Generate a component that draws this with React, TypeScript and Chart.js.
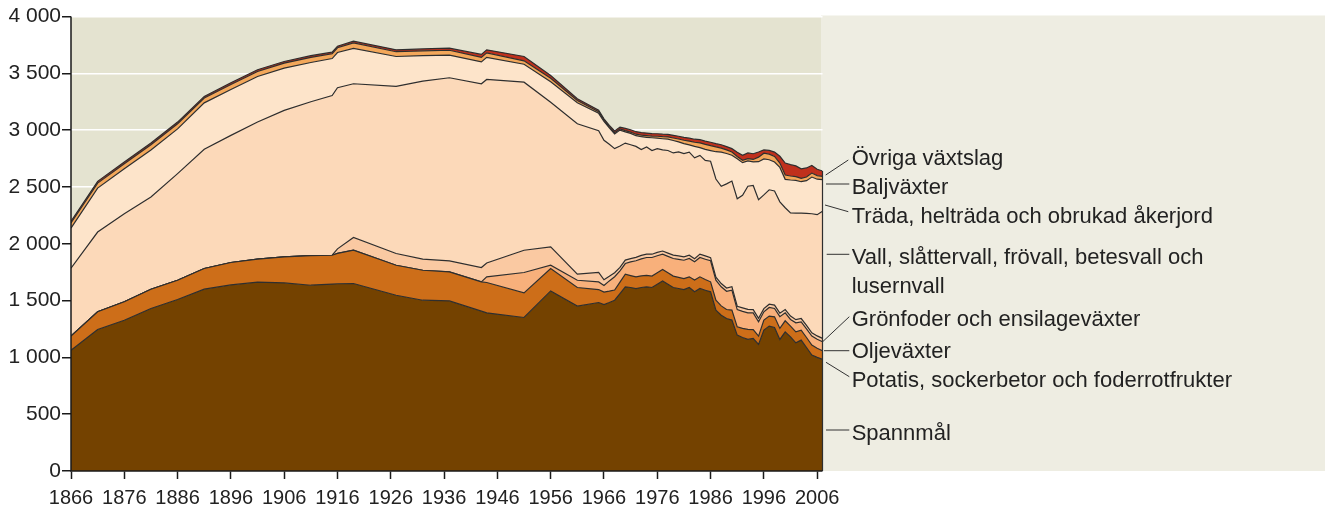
import React, { useEffect, useRef } from 'react';
import { Chart, registerables } from 'chart.js';

Chart.register(...registerables);

// Years of observation
const years = [
  1866, 1871, 1876, 1881, 1886, 1891, 1896, 1901, 1906, 1911, 1915, 1916, 1919, 1927, 1932, 1937,
  1943, 1944, 1951, 1956, 1961, 1965,
  1966, 1967, 1968, 1969, 1970, 1971, 1972, 1973, 1974, 1975, 1976, 1977, 1978, 1979, 1980, 1981,
  1982, 1983, 1984, 1985, 1986, 1987, 1988, 1989, 1990, 1991, 1992, 1993, 1994, 1995, 1996, 1997,
  1998, 1999, 2000, 2001, 2002, 2003, 2004, 2005, 2006, 2007,
];

// Area, 1000 hectares (stacked, bottom to top)
const spannmal = [
  1063, 1246, 1327, 1430, 1509, 1600, 1638, 1662, 1655, 1635, 1645, 1648, 1650, 1547, 1503, 1497,
  1407, 1392, 1351, 1585, 1451, 1483,
  1465, 1483, 1503, 1562, 1621, 1615, 1606, 1615, 1621, 1615, 1644, 1673, 1644, 1615, 1606, 1597,
  1615, 1577, 1606, 1591, 1577, 1415, 1371, 1342, 1328, 1196, 1175, 1158, 1166, 1114, 1240, 1275,
  1263, 1158, 1225, 1181, 1128, 1152, 1087, 1020, 1000, 982,
];
const potatis = [
  124, 155, 162, 170, 170, 182, 197, 202, 229, 260, 254, 267, 293, 264, 264, 255,
  257, 267, 216, 197, 164, 114,
  110, 100, 90, 100, 111, 105, 103, 102, 100, 100, 100, 100, 100, 100, 98, 97,
  94, 103, 103, 95, 88, 88, 82, 79, 88, 73, 80, 88, 79, 73, 88, 88,
  94, 97, 97, 94, 97, 88, 88, 88, 80, 76,
];
const oljevaxter = [
  0, 0, 0, 0, 0, 0, 0, 0, 0, 0, 0, 0, 0, 0, 0, 0,
  0, 49, 180, 29, 64, 67,
  58, 90, 117, 100, 94, 120, 141, 150, 158, 164, 150, 135, 145, 155, 158, 161,
  161, 161, 170, 178, 185, 176, 168, 161, 176, 152, 150, 146, 146, 126, 73, 76,
  73, 103, 70, 59, 79, 73, 76, 79, 79, 79,
];
const gronfoder = [
  0, 0, 0, 0, 0, 0, 0, 0, 0, 0, 0, 40, 112, 103, 97, 97,
  127, 123, 196, 161, 53, 83,
  50, 40, 35, 30, 30, 29, 30, 31, 30, 29, 30, 28, 29, 30, 31, 30,
  29, 28, 30, 29, 28, 27, 29, 28, 30, 29, 31, 30, 29, 30, 28, 29,
  30, 31, 29, 30, 28, 29, 30, 29, 30, 30,
];
const vall = [
  598, 702, 776, 811, 938, 1049, 1119, 1207, 1290, 1355, 1406, 1418, 1353, 1471, 1567, 1612,
  1617, 1615, 1479, 1273, 1324, 1248,
  1227, 1162, 1092, 1068, 1030, 1002, 977, 931, 942, 913, 913, 890, 903, 899, 915, 908,
  907, 887, 869, 840, 848, 864, 855, 917, 930, 946, 991, 1084, 1093, 1045, 1001, 1007,
  1005, 980, 896, 907, 937, 928, 987, 1048, 1067, 1119,
];
const trada = [
  353, 387, 395, 415, 394, 409, 404, 401, 371, 345, 325, 310, 312, 263, 224, 199,
  192, 194, 158, 181, 185, 153,
  166, 144, 130, 140, 99, 100, 94, 113, 86, 112, 92, 98, 99, 110, 88, 88,
  64, 101, 68, 98, 94, 240, 302, 267, 227, 352, 287, 223, 207, 334, 317, 264,
  254, 303, 250, 290, 289, 276, 287, 323, 312, 278,
];
const baljvaxter = [
  45, 44, 45, 45, 45, 42, 44, 44, 44, 45, 42, 42, 48, 42, 43, 43,
  40, 40, 30, 30, 20, 15,
  12, 10, 10, 10, 10, 12, 13, 14, 15, 15, 17, 18, 20, 22, 26, 30,
  33, 36, 41, 43, 44, 42, 35, 32, 29, 20, 20, 20, 22, 40, 50, 50,
  50, 38, 38, 35, 32, 29, 32, 35, 32, 29,
];
const ovriga = [
  15, 15, 15, 15, 15, 15, 15, 15, 15, 15, 14, 14, 15, 17, 17, 18,
  26, 27, 38, 25, 15, 12,
  12, 13, 15, 17, 20, 20, 22, 22, 22, 22, 22, 22, 22, 23, 24, 25,
  26, 27, 29, 29, 29, 29, 29, 29, 29, 38, 45, 50, 50, 45, 29, 32,
  38, 60, 105, 100, 95, 85, 80, 67, 55, 47,
];

const seriesNames = [
  'Spannmål',
  'Potatis, sockerbetor och foderrotfrukter',
  'Oljeväxter',
  'Grönfoder och ensilageväxter',
  'Vall, slåttervall, frövall, betesvall och lusernvall',
  'Träda, helträda och obrukad åkerjord',
  'Baljväxter',
  'Övriga växtslag',
];
const seriesValues = [spannmal, potatis, oljevaxter, gronfoder, vall, trada, baljvaxter, ovriga];

const tickYears = [1866, 1876, 1886, 1896, 1906, 1916, 1926, 1936, 1946, 1956, 1966, 1976, 1986, 1996, 2006];
const yTicks = [0, 500, 1000, 1500, 2000, 2500, 3000, 3500, 4000];
const yTickLabels = ['0', '500', '1 000', '1 500', '2 000', '2 500', '3 000', '3 500', '4 000'];

// Styling
const FILLS = ['#744200', '#cd6e19', '#f8b07b', '#fac9a2', '#fcd9b9', '#fde4ca', '#f3a75a', '#c0301c'];
const FONT = "'Liberation Sans', Arial, Helvetica, sans-serif";
const INK = '#222222';

// Right-hand labels: text lines, baselines (px), leader line start/end (px)
const labelLayout = [
  { lines: ['Övriga växtslag'], base: [165], l: [825.7, 175, 848.3, 160] },
  { lines: ['Baljväxter'], base: [194], l: [826, 184, 849.3, 184] },
  { lines: ['Träda, helträda och obrukad åkerjord'], base: [222.7], l: [825, 205, 848.3, 211.7] },
  { lines: ['Vall, slåttervall, frövall, betesvall och', 'lusernvall'], base: [264, 293.3], l: [826.7, 254.3, 849.3, 254.3] },
  { lines: ['Grönfoder och ensilageväxter'], base: [326], l: [822.7, 341.7, 849.3, 316.7] },
  { lines: ['Oljeväxter'], base: [357.7], l: [824, 350.7, 849.3, 350.7] },
  { lines: ['Potatis, sockerbetor och foderrotfrukter'], base: [387.3], l: [826, 362.3, 849.3, 376.7] },
  { lines: ['Spannmål'], base: [440], l: [826, 430, 849.3, 430] },
];

export default function App() {
  const ref = useRef<HTMLCanvasElement>(null);

  useEffect(() => {
    if (!ref.current) return;

    const bgPlugin = {
      id: 'bgPanels',
      beforeDraw(chart: any) {
        const { ctx, chartArea: a } = chart;
        ctx.save();
        ctx.fillStyle = '#e4e3d0';
        ctx.fillRect(a.left, a.top, a.right - a.left, a.bottom - a.top);
        ctx.fillStyle = '#eeede2';
        ctx.fillRect(a.right - 1.5, a.top - 1, 1325 - a.right + 1.5, a.bottom - a.top + 1);
        ctx.restore();
      },
    };

    const overlayPlugin = {
      id: 'overlay',
      afterDatasetsDraw(chart: any) {
        const { ctx, chartArea: a } = chart;
        ctx.save();
        // right edge of the stacked areas
        const lastMeta = chart.getDatasetMeta(chart.data.datasets.length - 1);
        const lastPt = lastMeta.data[lastMeta.data.length - 1];
        ctx.strokeStyle = '#2e2e2e';
        ctx.lineWidth = 1.2;
        ctx.beginPath();
        ctx.moveTo(a.right, lastPt.y);
        ctx.lineTo(a.right, a.bottom);
        ctx.stroke();
        // axes
        ctx.strokeStyle = '#1a1a1a';
        ctx.lineWidth = 1.5;
        ctx.beginPath();
        ctx.moveTo(a.left, a.top);
        ctx.lineTo(a.left, a.bottom);
        ctx.lineTo(a.right, a.bottom);
        ctx.stroke();
        // labels
        ctx.font = `22px ${FONT}`;
        ctx.fillStyle = INK;
        ctx.textBaseline = 'alphabetic';
        ctx.textAlign = 'left';
        ctx.lineWidth = 1;
        ctx.strokeStyle = '#333333';
        labelLayout.forEach((lab) => {
          ctx.beginPath();
          ctx.moveTo(lab.l[0], lab.l[1]);
          ctx.lineTo(lab.l[2], lab.l[3]);
          ctx.stroke();
          lab.lines.forEach((t, i) => ctx.fillText(t, 851.7, lab.base[i]));
        });
        ctx.restore();
      },
    };

    const chart = new Chart(ref.current, {
      type: 'line',
      data: {
        datasets: seriesValues.map((vals, i) => ({
          label: seriesNames[i],
          data: years.map((x, j) => ({ x, y: vals[j] })),
          backgroundColor: FILLS[i],
          borderColor: '#2e2e2e',
          borderWidth: 1.2,
          pointRadius: 0,
          pointHoverRadius: 0,
          tension: 0,
          fill: i === 0 ? 'origin' : '-1',
        })),
      },
      options: {
        animation: false,
        responsive: false,
        events: [],
        layout: { padding: { top: 16.5, right: 1325 - 822.5, left: 0, bottom: 0 } },
        plugins: { legend: { display: false }, tooltip: { enabled: false } },
        scales: {
          x: {
            type: 'linear',
            min: 1866,
            max: 2007,
            afterBuildTicks: (s: any) => {
              s.ticks = tickYears.map((v) => ({ value: v }));
            },
            afterFit: (s: any) => {
              s.height = 37;
            },
            grid: {
              drawOnChartArea: false,
              drawTicks: true,
              tickLength: 8,
              tickColor: '#1a1a1a',
              tickWidth: 1.5,
            },
            border: { display: false },
            ticks: {
              color: INK,
              font: { family: FONT, size: 20 },
              padding: 7,
              maxRotation: 0,
              autoSkip: false,
              callback: (v: any) => String(v),
            },
          },
          y: {
            stacked: true,
            min: 0,
            max: 4000,
            afterBuildTicks: (s: any) => {
              s.ticks = yTicks.map((v) => ({ value: v }));
            },
            afterFit: (s: any) => {
              s.width = 71;
            },
            grid: {
              color: '#ffffff',
              lineWidth: 1.5,
              tickColor: '#1a1a1a',
              tickLength: 9,
              tickWidth: 1.5,
            },
            border: { display: false },
            ticks: {
              color: INK,
              font: { family: FONT, size: 21 },
              padding: 1,
              callback: (v: any) => yTickLabels[yTicks.indexOf(v)] ?? '',
            },
          },
        },
      },
      plugins: [bgPlugin, overlayPlugin],
    } as any);

    return () => chart.destroy();
  }, []);

  return (
    <div style={{ position: 'fixed', left: 0, top: 0, width: 1325, height: 508 }}>
      <canvas ref={ref} width={1325} height={508} style={{ width: 1325, height: 508, display: 'block' }} />
    </div>
  );
}
